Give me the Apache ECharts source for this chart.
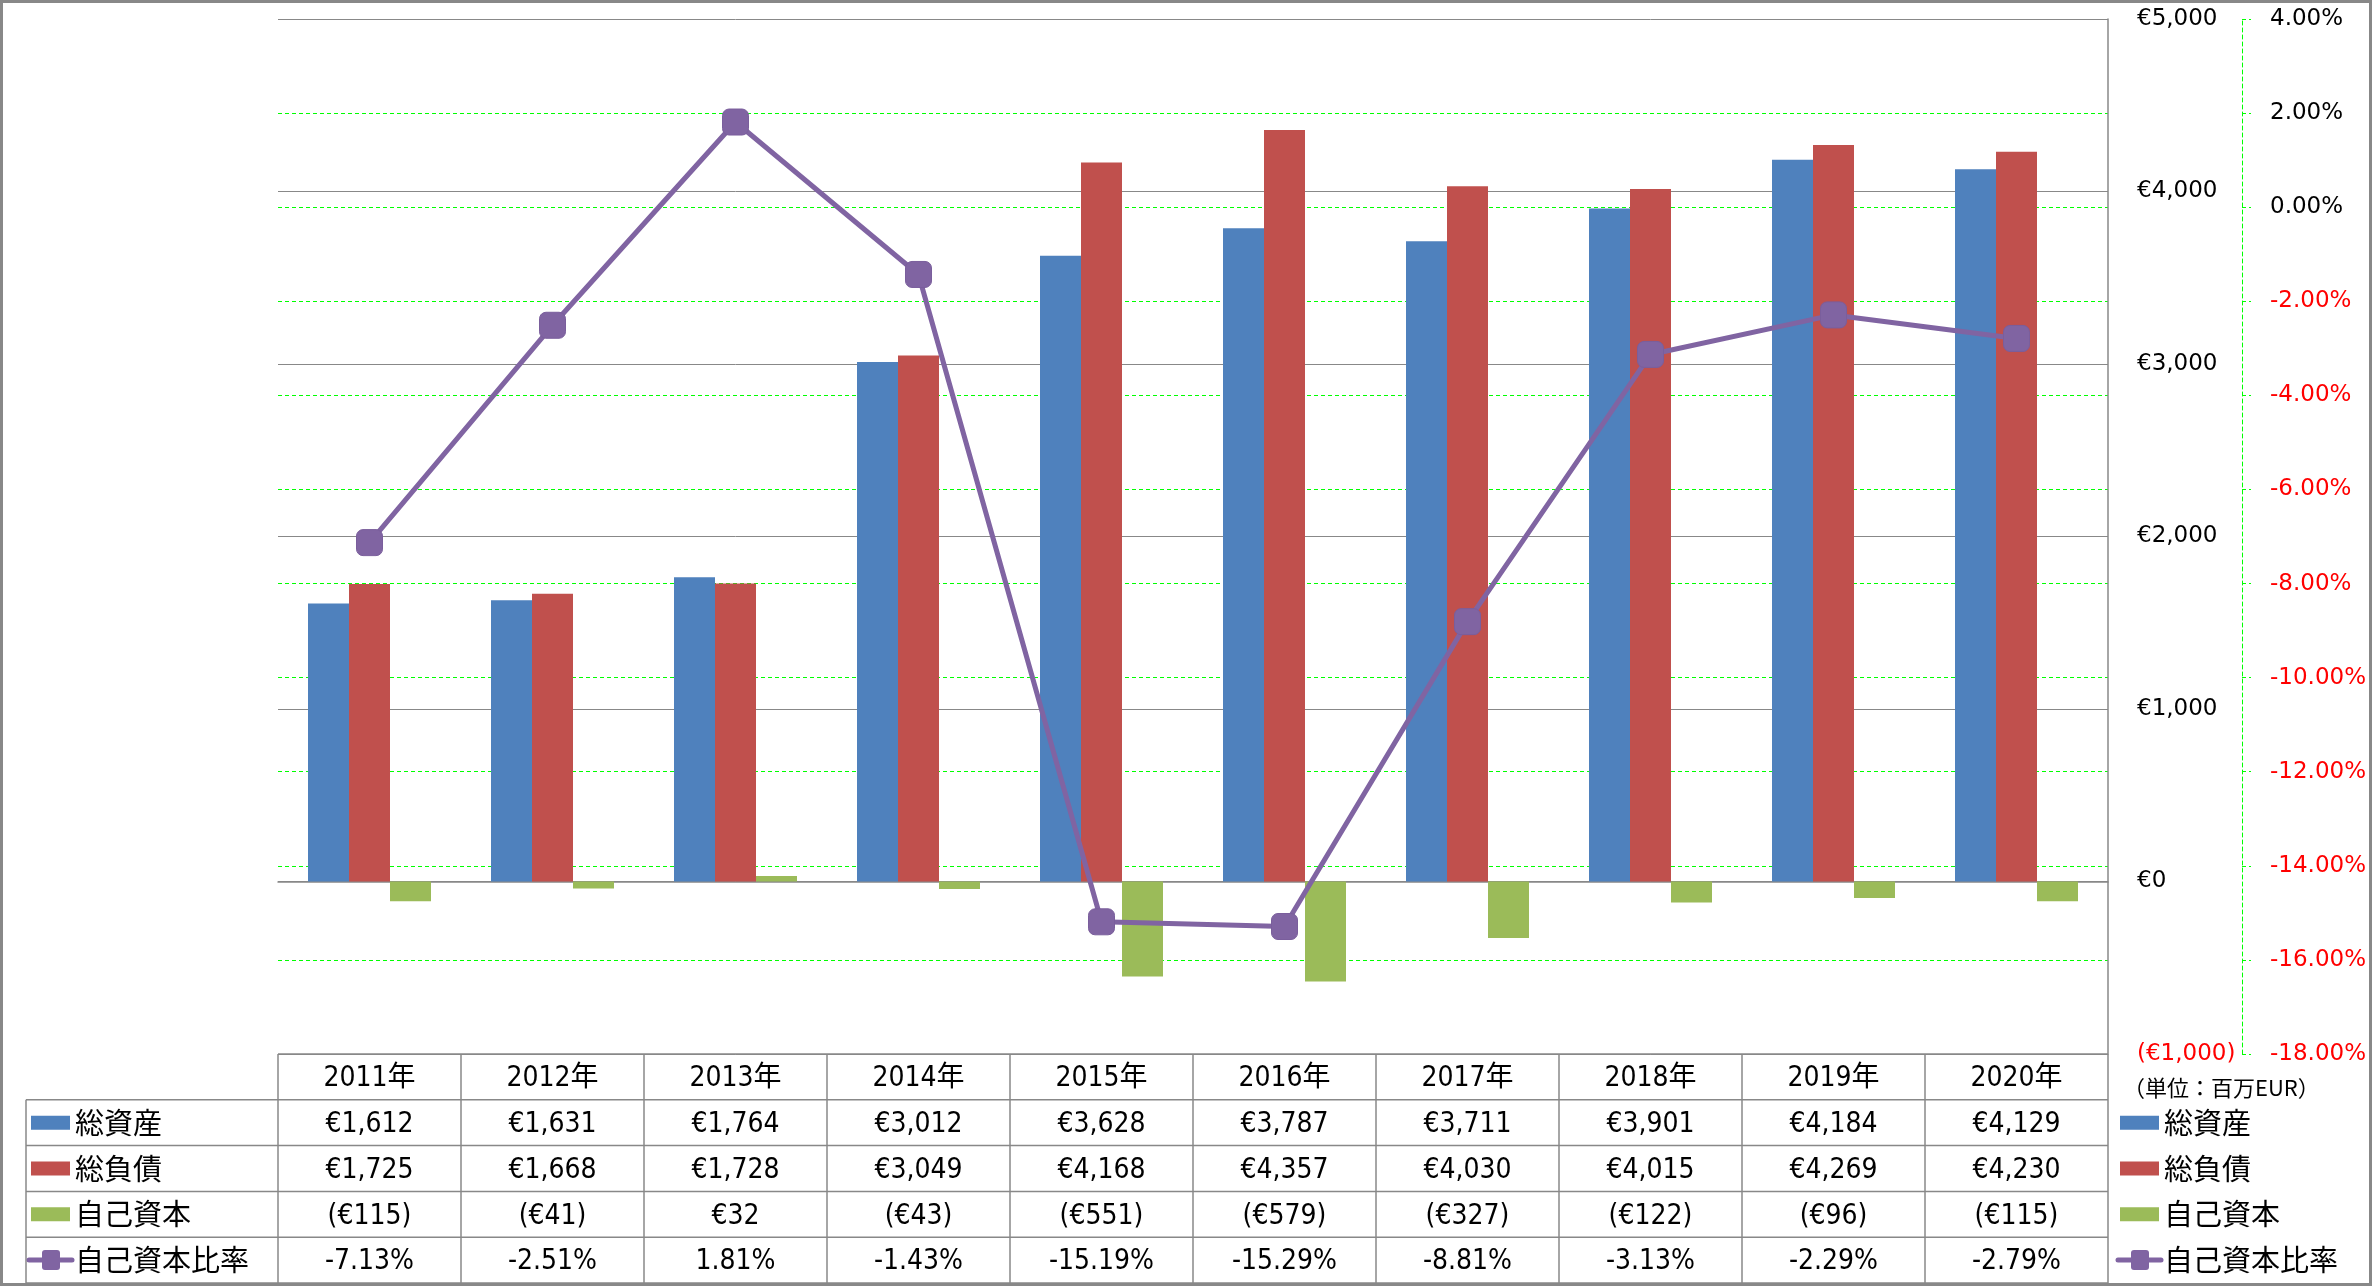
<!DOCTYPE html>
<html>
<head>
<meta charset="utf-8">
<script src="https://cdn.jsdelivr.net/npm/echarts@6/dist/echarts.min.js"></script>
<style>
html,body{margin:0;padding:0;background:#fff;}
#chart{width:2372px;height:1286px;}
</style>
</head>
<body>
<div id="chart"></div>
<script>
// ---- data ----
const categories = ['2011年','2012年','2013年','2014年','2015年','2016年','2017年','2018年','2019年','2020年'];
const totalAssets = [1612,1631,1764,3012,3628,3787,3711,3901,4184,4129];
const totalLiabilities = [1725,1668,1728,3049,4168,4357,4030,4015,4269,4230];
const equity = [-115,-41,32,-43,-551,-579,-327,-122,-96,-115];
const equityRatio = [-7.13,-2.51,1.81,-1.43,-15.19,-15.29,-8.81,-3.13,-2.29,-2.79];
const seriesNames = ['総資産','総負債','自己資本','自己資本比率'];
const unitLabel = '（単位：百万EUR）';
const eurAxis = {min:-1000, max:5000, interval:1000};
const pctAxis = {min:-18, max:4, interval:2};

// ---- styles ----
const colors = ['#4F81BD','#C0504D','#9BBB59','#8064A2'];
const gridGray = '#888888';
const axisFont = "'DejaVu Sans', Verdana, sans-serif";
const tableFont = "'Liberation Sans Narrow','DejaVu Sans Condensed','Noto Sans CJK JP',sans-serif";
const jpFont = "'Noto Sans CJK JP', sans-serif";

function fmtEur(v){
  const s = '€' + Math.abs(v).toLocaleString('en-US');
  return v < 0 ? '(' + s + ')' : s;
}
function fmtPct(v){ return v.toFixed(2) + '%'; }

// green split lines, none at the two ends (they coincide with grey lines)
const nPctLines = Math.round((pctAxis.max - pctAxis.min) / pctAxis.interval) + 1;
const greenSplitColors = [];
for (let i = 0; i < nPctLines; i++) greenSplitColors.push((i === 0 || i === nPctLines - 1) ? 'rgba(0,0,0,0)' : '#00FF00');

const chart = echarts.init(document.getElementById('chart'));

const option = {
  animation:false,
  backgroundColor:'#ffffff',
  grid:{left:278, right:264, top:19, bottom:232},
  legend:{show:false},
  xAxis:{
    type:'category', data:categories, boundaryGap:true, z:1,
    axisLine:{show:true, onZero:true, lineStyle:{color:gridGray, width:1.5}},
    axisTick:{show:false}, axisLabel:{show:false}, splitLine:{show:false}
  },
  yAxis:[
    {
      type:'value', position:'right', min:eurAxis.min, max:eurAxis.max, interval:eurAxis.interval, z:1,
      axisLine:{show:true, lineStyle:{color:gridGray, width:1.5}},
      axisTick:{show:false},
      splitLine:{show:true, lineStyle:{color:gridGray, width:1}},
      axisLabel:{
        margin:29, fontFamily:axisFont, fontSize:23,
        formatter:(v)=>fmtEur(v),
        color:(v)=> (Number(v) < 0 ? '#FF0000' : '#000000')
      }
    },
    {
      type:'value', position:'right', offset:134, min:pctAxis.min, max:pctAxis.max, interval:pctAxis.interval, z:0,
      axisLine:{show:true, lineStyle:{color:'#00FF00', width:1, type:[4,3]}},
      axisTick:{show:true, inside:false, length:9, lineStyle:{color:'#00FF00', width:1, type:[4,3]}},
      splitLine:{show:true, lineStyle:{color:greenSplitColors, width:1, type:[4,3]}},
      axisLabel:{
        margin:28, fontFamily:axisFont, fontSize:23,
        formatter:(v)=>fmtPct(v),
        color:(v)=> (Number(v) < 0 ? '#FF0000' : '#000000')
      }
    }
  ],
  series:[
    {name:seriesNames[0], type:'bar', data:totalAssets, barWidth:41, barGap:'0%', itemStyle:{color:colors[0]}},
    {name:seriesNames[1], type:'bar', data:totalLiabilities, barWidth:41, barGap:'0%', itemStyle:{color:colors[1]}},
    {name:seriesNames[2], type:'bar', data:equity, barWidth:41, barGap:'0%', itemStyle:{color:colors[2]}},
    {name:seriesNames[3], type:'line', yAxisIndex:1, data:equityRatio, z:5,
     symbol:'roundRect', symbolSize:26, showSymbol:true,
     lineStyle:{color:colors[3], width:5}, itemStyle:{color:colors[3], borderColor:'#7a5e9c', borderWidth:1}}
  ]
};
chart.setOption(option);

// ---- data table (built from the same arrays, placed with the chart's scales) ----
function legendKey(g, k, x, cy){
  if (k < 3){
    g.push({type:'rect', shape:{x:x+3, y:cy-7, width:39, height:14}, style:{fill:colors[k]}, silent:true});
  } else {
    g.push({type:'line', shape:{x1:x+1, y1:cy, x2:x+44, y2:cy}, style:{stroke:colors[3], lineWidth:5, lineCap:'round'}, silent:true});
    g.push({type:'rect', shape:{x:x+14, y:cy-10, width:18, height:20, r:3}, style:{fill:colors[3]}, silent:true});
  }
}
function buildTable(){
  const xs = categories.map(c => chart.convertToPixel({xAxisIndex:0}, c));
  const band = xs[1] - xs[0];
  const yTop = chart.convertToPixel({yAxisIndex:0}, eurAxis.min);
  const xLeft = xs[0] - band/2;
  const xRight = xs[xs.length-1] + band/2;
  const tableLeft = 26;
  const yBottom = 1283;
  const rowH = (yBottom - yTop) / 5;
  const lineStyle = {stroke:gridGray, lineWidth:1.5};
  const g = [];
  g.push({type:'line', shape:{x1:xLeft, y1:yTop, x2:xRight, y2:yTop}, style:lineStyle, silent:true});
  for (let r=1; r<=5; r++){
    const y = yTop + r*rowH;
    g.push({type:'line', shape:{x1:tableLeft, y1:y, x2:xRight, y2:y}, style:lineStyle, silent:true});
  }
  g.push({type:'line', shape:{x1:tableLeft, y1:yTop+rowH, x2:tableLeft, y2:yBottom}, style:lineStyle, silent:true});
  for (let i=0; i<=categories.length; i++){
    const x = xLeft + i*band;
    g.push({type:'line', shape:{x1:x, y1:yTop, x2:x, y2:yBottom}, style:lineStyle, silent:true});
  }
  const rows = [
    categories,
    totalAssets.map(fmtEur),
    totalLiabilities.map(fmtEur),
    equity.map(fmtEur),
    equityRatio.map(fmtPct)
  ];
  rows.forEach((row, r) => {
    const cy = yTop + (r+0.5)*rowH + 2;
    row.forEach((txt, i) => {
      g.push({type:'text', x:xs[i], y:cy, silent:true,
        style:{text:txt, fontFamily:tableFont, fontSize:28, fill:'#000', align:'center', verticalAlign:'middle'}});
    });
  });
  // row headers (left) and legend (right)
  seriesNames.forEach((nm, k) => {
    const cy = yTop + (k+1.5)*rowH;
    legendKey(g, k, 28, cy);
    g.push({type:'text', x:75, y:cy, silent:true,
      style:{text:nm, fontFamily:jpFont, fontSize:29, fill:'#000', align:'left', verticalAlign:'middle'}});
    legendKey(g, k, 2117, cy);
    g.push({type:'text', x:2164, y:cy, silent:true,
      style:{text:nm, fontFamily:jpFont, fontSize:29, fill:'#000', align:'left', verticalAlign:'middle'}});
  });
  g.push({type:'text', x:2123, y:1088, silent:true,
    style:{text:unitLabel, fontFamily:jpFont, fontSize:22, fill:'#000', align:'left', verticalAlign:'middle'}});
  g.push({type:'rect', shape:{x:1.5, y:1.5, width:2369, height:1283}, style:{fill:'none', stroke:gridGray, lineWidth:3}, silent:true, z:100});
  chart.setOption({graphic:g});
}
buildTable();
</script>
</body>
</html>
